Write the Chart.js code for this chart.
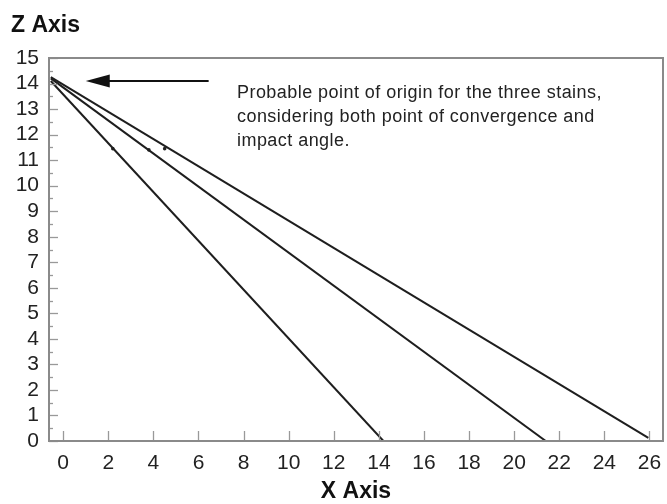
<!DOCTYPE html>
<html><head><meta charset="utf-8">
<script src="https://cdn.jsdelivr.net/npm/chart.js@4/dist/chart.umd.min.js"></script>
<style>html,body{margin:0;padding:0;background:#fff}#wrap{width:667px;height:504px;position:relative}</style>
</head><body><div id="wrap"><canvas id="c" width="667" height="504"></canvas></div>
<script>
// Trajectory lines (start point near origin, end on floor)
const line1X = [-0.55, 14.2];
const line1Z = [14.1, 0];
const line2X = [-0.55, 21.4];
const line2Z = [14.2, 0];
const line3X = [-0.55, 25.95];
const line3Z = [14.25, 0.12];
// Small stain markers along the lines
const markX = [2.2, 3.8, 4.5];
const markZ = [11.45, 11.4, 11.45];
const xTicks = [0,2,4,6,8,10,12,14,16,18,20,22,24,26];
const zTicks = [0,1,2,3,4,5,6,7,8,9,10,11,12,13,14,15];
const noteLines = ["Probable point of origin for the three stains,", "considering both point of convergence and", "impact angle."];
const arrowFrom = [6.45, 14.1];
const arrowTo = [1.0, 14.1];

function pts(xs, ys){ return xs.map((x,i)=>({x:x, y:ys[i]})); }
const FONT = "'Liberation Sans', Arial, sans-serif";

const deco = {
  id: 'deco',
  afterDraw(chart){
    const ctx = chart.ctx, a = chart.chartArea;
    const xs = chart.scales.x, ys = chart.scales.y;
    ctx.save();
    // inner ticks
    ctx.strokeStyle = '#999'; ctx.lineWidth = 1.3;
    xTicks.forEach(v=>{ const p = Math.round(xs.getPixelForValue(v))+0.5;
      ctx.beginPath(); ctx.moveTo(p, a.bottom); ctx.lineTo(p, a.bottom-10); ctx.stroke(); });
    zTicks.forEach(v=>{ const p = Math.round(ys.getPixelForValue(v))+0.5;
      ctx.beginPath(); ctx.moveTo(a.left, p); ctx.lineTo(a.left+9, p); ctx.stroke();
      if (v < 15){ const q = Math.round(ys.getPixelForValue(v+0.5))+0.5;
        ctx.beginPath(); ctx.moveTo(a.left, q); ctx.lineTo(a.left+4, q); ctx.stroke(); }
    });
    // frame
    ctx.strokeStyle = '#8a8a8a'; ctx.lineWidth = 2;
    ctx.strokeRect(a.left, a.top, a.right-a.left, a.bottom-a.top);
    // arrow
    const x1 = xs.getPixelForValue(arrowFrom[0]), y1 = ys.getPixelForValue(arrowFrom[1]);
    const x2 = xs.getPixelForValue(arrowTo[0]);
    ctx.strokeStyle = '#111'; ctx.fillStyle = '#111'; ctx.lineWidth = 2.2;
    ctx.beginPath(); ctx.moveTo(x1, y1); ctx.lineTo(x2+20, y1); ctx.stroke();
    ctx.beginPath(); ctx.moveTo(x2, y1); ctx.lineTo(x2+24, y1-6.5); ctx.lineTo(x2+24, y1+6.5); ctx.closePath(); ctx.fill();
    // note text
    ctx.fillStyle = '#222'; ctx.font = '18px ' + FONT; ctx.textBaseline = 'alphabetic'; ctx.textAlign = 'left';
    try { ctx.letterSpacing = '0.45px'; } catch(e) {}
    noteLines.forEach((t,i)=> ctx.fillText(t, 237, 98 + i*24));
    try { ctx.letterSpacing = '0px'; } catch(e) {}
    // axis titles
    ctx.fillStyle = '#111'; ctx.font = 'bold 23px ' + FONT;
    ctx.fillText('Z Axis', 11, 32);
    ctx.textAlign = 'center';
    ctx.fillText('X Axis', (a.left + a.right) / 2, 498);
    ctx.restore();
  }
};

const lineStyle = {showLine:true, borderColor:'#1e1e1e', borderWidth:2, pointRadius:0, fill:false};
new Chart(document.getElementById('c'), {
  type: 'scatter',
  data: { datasets: [
    Object.assign({data: pts(line1X, line1Z)}, lineStyle),
    Object.assign({data: pts(line2X, line2Z)}, lineStyle),
    Object.assign({data: pts(line3X, line3Z)}, lineStyle),
    {data: pts(markX, markZ), showLine:false, pointRadius:1.8, pointBackgroundColor:'#222', pointBorderWidth:0}
  ]},
  options: {
    responsive:false, animation:false, devicePixelRatio:1,
    layout: {padding:{top:58, right:2, left:0, bottom:0}},
    plugins: {legend:{display:false}, tooltip:{enabled:false}},
    scales: {
      x: { type:'linear', min:-0.63, max:26.6,
        afterFit(s){ s.height = 63; s.paddingRight = 0; s.paddingLeft = 0; },
        afterBuildTicks(s){ s.ticks = xTicks.map(v=>({value:v})); },
        grid:{display:false, drawTicks:false}, border:{display:false},
        ticks:{color:'#222', font:{family:FONT, size:21}, padding:10, maxRotation:0, autoSkip:false}
      },
      y: { type:'linear', min:0, max:15,
        afterFit(s){ s.width = 49; s.paddingTop = 0; s.paddingBottom = 0; },
        afterBuildTicks(s){ s.ticks = zTicks.map(v=>({value:v})); },
        grid:{display:false, drawTicks:false}, border:{display:false},
        ticks:{color:'#222', font:{family:FONT, size:21}, padding:10, autoSkip:false}
      }
    }
  },
  plugins:[deco]
});
</script></body></html>
